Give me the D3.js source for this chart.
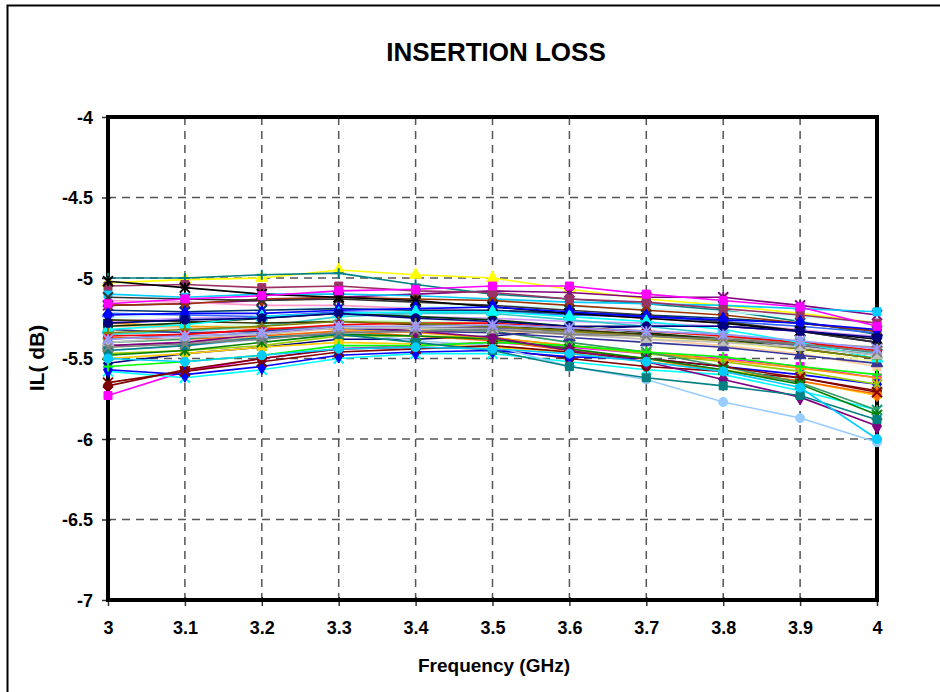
<!DOCTYPE html>
<html lang="en">
<head>
<meta charset="utf-8">
<title>Insertion loss</title>
<script src="https://cdn.jsdelivr.net/npm/d3@7"></script>
<style>
  body { margin: 0; background: #fff; }
  text { font-family: "Liberation Sans", Arial, sans-serif; font-weight: bold; fill: #000; }
</style>
</head>
<body>
<script>
// frequency points (GHz)
var freqs = [3.0, 3.1, 3.2, 3.3, 3.4, 3.5, 3.6, 3.7, 3.8, 3.9, 4.0];
var xTicks = [3, 3.1, 3.2, 3.3, 3.4, 3.5, 3.6, 3.7, 3.8, 3.9, 4];
var yTicks = [-4, -4.5, -5, -5.5, -6, -6.5, -7];

// one row per measured unit, IL in dB at each frequency
var ilCurves = [
  [-5.53,-5.47,-5.43,-5.38,-5.38,-5.36,-5.32,-5.30,-5.30,-5.33,-5.40],
  [-5.73,-5.58,-5.50,-5.44,-5.42,-5.40,-5.43,-5.47,-5.50,-5.55,-5.62],
  [-5.03,-5.01,-5.00,-4.95,-4.98,-5.00,-5.07,-5.13,-5.17,-5.22,-5.28],
  [-5.58,-5.62,-5.57,-5.50,-5.47,-5.47,-5.52,-5.57,-5.60,-5.70,-5.82],
  [-5.17,-5.16,-5.14,-5.12,-5.10,-5.08,-5.09,-5.12,-5.12,-5.17,-5.23],
  [-5.67,-5.57,-5.50,-5.44,-5.43,-5.44,-5.50,-5.55,-5.58,-5.62,-5.70],
  [-5.00,-5.00,-4.98,-4.97,-5.04,-5.10,-5.13,-5.16,-5.20,-5.27,-5.35],
  [-5.57,-5.60,-5.55,-5.48,-5.46,-5.45,-5.49,-5.50,-5.55,-5.60,-5.66],
  [-5.10,-5.12,-5.10,-5.10,-5.11,-5.13,-5.15,-5.16,-5.17,-5.19,-5.21],
  [-5.25,-5.22,-5.20,-5.18,-5.18,-5.17,-5.18,-5.19,-5.21,-5.24,-5.28],
  [-5.32,-5.30,-5.29,-5.26,-5.27,-5.27,-5.30,-5.33,-5.36,-5.40,-5.45],
  [-5.43,-5.40,-5.36,-5.30,-5.30,-5.29,-5.32,-5.37,-5.40,-5.45,-5.52],
  [-5.45,-5.42,-5.38,-5.33,-5.39,-5.42,-5.55,-5.63,-5.77,-5.87,-6.02],
  [-5.14,-5.15,-5.17,-5.17,-5.19,-5.20,-5.22,-5.25,-5.28,-5.32,-5.37],
  [-5.27,-5.25,-5.24,-5.22,-5.24,-5.25,-5.27,-5.28,-5.30,-5.33,-5.36],
  [-5.30,-5.31,-5.32,-5.30,-5.32,-5.33,-5.35,-5.38,-5.42,-5.47,-5.55],
  [-5.22,-5.23,-5.24,-5.21,-5.22,-5.21,-5.23,-5.24,-5.27,-5.30,-5.34],
  [-5.35,-5.33,-5.30,-5.24,-5.22,-5.22,-5.26,-5.30,-5.35,-5.40,-5.47],
  [-5.47,-5.45,-5.42,-5.36,-5.36,-5.37,-5.42,-5.47,-5.52,-5.58,-5.66],
  [-5.50,-5.47,-5.43,-5.40,-5.41,-5.43,-5.46,-5.52,-5.57,-5.64,-5.73],
  [-5.28,-5.30,-5.31,-5.32,-5.34,-5.37,-5.42,-5.46,-5.51,-5.56,-5.62],
  [-5.37,-5.38,-5.36,-5.33,-5.36,-5.39,-5.45,-5.50,-5.58,-5.64,-5.72],
  [-5.38,-5.35,-5.32,-5.30,-5.31,-5.31,-5.33,-5.35,-5.38,-5.42,-5.48],
  [-5.42,-5.40,-5.37,-5.34,-5.33,-5.32,-5.34,-5.35,-5.37,-5.40,-5.43],
  [-5.20,-5.21,-5.20,-5.19,-5.20,-5.20,-5.22,-5.23,-5.25,-5.28,-5.33],
  [-5.40,-5.38,-5.33,-5.30,-5.31,-5.33,-5.40,-5.46,-5.55,-5.65,-5.82],
  [-5.30,-5.28,-5.25,-5.22,-5.24,-5.26,-5.30,-5.34,-5.38,-5.44,-5.50],
  [-5.26,-5.27,-5.28,-5.27,-5.29,-5.30,-5.32,-5.35,-5.38,-5.41,-5.46],
  [-5.17,-5.16,-5.13,-5.12,-5.13,-5.14,-5.17,-5.20,-5.23,-5.28,-5.33],
  [-5.05,-5.04,-5.06,-5.05,-5.08,-5.09,-5.13,-5.15,-5.19,-5.23,-5.28],
  [-5.32,-5.34,-5.33,-5.31,-5.33,-5.34,-5.37,-5.40,-5.43,-5.48,-5.53],
  [-5.12,-5.13,-5.14,-5.13,-5.15,-5.17,-5.20,-5.23,-5.27,-5.33,-5.40],
  [-5.02,-5.06,-5.10,-5.12,-5.14,-5.18,-5.22,-5.25,-5.28,-5.33,-5.38],
  [-5.36,-5.35,-5.32,-5.29,-5.28,-5.28,-5.31,-5.33,-5.36,-5.40,-5.45],
  [-5.55,-5.52,-5.48,-5.42,-5.42,-5.40,-5.42,-5.46,-5.49,-5.55,-5.60],
  [-5.23,-5.22,-5.22,-5.20,-5.19,-5.18,-5.21,-5.24,-5.26,-5.28,-5.32],
  [-5.16,-5.13,-5.11,-5.08,-5.07,-5.05,-5.05,-5.10,-5.14,-5.18,-5.30],
  [-5.32,-5.29,-5.24,-5.22,-5.21,-5.21,-5.24,-5.27,-5.32,-5.40,-5.50],
  [-5.65,-5.58,-5.52,-5.46,-5.44,-5.42,-5.46,-5.50,-5.55,-5.62,-5.71],
  [-5.48,-5.45,-5.40,-5.35,-5.36,-5.38,-5.44,-5.50,-5.57,-5.66,-5.85],
  [-5.28,-5.26,-5.25,-5.22,-5.25,-5.27,-5.30,-5.30,-5.30,-5.33,-5.37],
  [-5.34,-5.32,-5.30,-5.27,-5.28,-5.30,-5.33,-5.36,-5.39,-5.44,-5.50],
  [-5.42,-5.40,-5.35,-5.30,-5.33,-5.37,-5.45,-5.52,-5.63,-5.74,-5.92],
  [-5.45,-5.42,-5.37,-5.35,-5.40,-5.45,-5.55,-5.62,-5.67,-5.73,-5.88],
  [-5.40,-5.37,-5.35,-5.31,-5.31,-5.32,-5.35,-5.38,-5.40,-5.43,-5.48],
  [-5.43,-5.41,-5.38,-5.34,-5.33,-5.32,-5.35,-5.36,-5.38,-5.41,-5.46],
  [-5.38,-5.36,-5.34,-5.30,-5.30,-5.29,-5.31,-5.33,-5.35,-5.39,-5.44],
  [-5.50,-5.52,-5.48,-5.44,-5.43,-5.44,-5.47,-5.52,-5.58,-5.68,-6.00]
];

// spreadsheet-style series colours, used in order
var seriesColors = [
  "#000080","#FF00FF","#FFFF00","#00FFFF","#800080","#800000","#008080","#0000FF",
  "#00CCFF","#CCFFFF","#CCFFCC","#FFFF99","#99CCFF","#FF99CC","#CC99FF","#FFCC99",
  "#3366FF","#33CCCC","#99CC00","#FFCC00","#FF9900","#FF6600","#666699","#969696",
  "#003366","#339966","#003300","#333300","#993300","#993366","#333399","#333333",
  "#000000","#FF0000","#00FF00","#0000FF","#FF00FF","#00FFFF","#800000","#008000",
  "#000080","#808000","#800080","#008080","#C0C0C0","#808080","#9999FF","#00CCFF"
];
var markerKinds = ["diamond","square","triangle","x","star","circle","plus"];

var W = 940, H = 692;
var plot = { left: 108, top: 117, right: 877, bottom: 600 };

var svg = d3.select("body").append("svg")
  .attr("width", W)
  .attr("height", H);

// chart frame (runs off the bottom/right edge like the original)
svg.append("rect")
  .attr("x", 7.5).attr("y", 5.5)
  .attr("width", W + 20).attr("height", H + 20)
  .attr("fill", "#fff")
  .attr("stroke", "#000")
  .attr("stroke-width", 2);

var x = d3.scaleLinear().domain([3, 4]).range([plot.left, plot.right]);
var y = d3.scaleLinear().domain([-7, -4]).range([plot.bottom, plot.top]);

// grid
svg.append("g").selectAll("line")
  .data(yTicks.slice(1, -1))
  .enter().append("line")
  .attr("x1", plot.left).attr("x2", plot.right)
  .attr("y1", function(d) { return y(d); })
  .attr("y2", function(d) { return y(d); })
  .attr("stroke", "#555")
  .attr("stroke-width", 1.5)
  .attr("stroke-dasharray", "8,6");

svg.append("g").selectAll("line")
  .data(xTicks.slice(1, -1))
  .enter().append("line")
  .attr("y1", plot.top).attr("y2", plot.bottom)
  .attr("x1", function(d) { return x(d); })
  .attr("x2", function(d) { return x(d); })
  .attr("stroke", "#555")
  .attr("stroke-width", 1.5)
  .attr("stroke-dasharray", "8,6");

// axes
var xAxis = d3.axisBottom(x).tickValues(xTicks).tickSize(6).tickPadding(15)
  .tickFormat(function(d) { return String(+d.toFixed(1)); });
var yAxis = d3.axisLeft(y).tickValues(yTicks).tickSize(6).tickPadding(9)
  .tickFormat(function(d) { return String(d); });

var gx = svg.append("g")
  .attr("transform", "translate(0," + plot.bottom + ")")
  .call(xAxis);
var gy = svg.append("g")
  .attr("transform", "translate(" + plot.left + ",0)")
  .call(yAxis);

[gx, gy].forEach(function(g) {
  g.select(".domain").remove();
  g.selectAll(".tick line").attr("stroke", "#333").attr("stroke-width", 1.5);
  g.selectAll(".tick text")
    .attr("font-family", "Liberation Sans, Arial, sans-serif")
    .attr("font-weight", "bold")
    .attr("font-size", "18px")
    .attr("fill", "#000");
});
gx.selectAll(".tick line").attr("y1", -3);
gy.selectAll(".tick line").attr("x1", 3);
gy.selectAll(".tick text").attr("dy", "0.35em");

// plot frame (markers at 3 and 4 GHz sit on top of it)
svg.append("rect")
  .attr("x", plot.left).attr("y", plot.top)
  .attr("width", plot.right - plot.left)
  .attr("height", plot.bottom - plot.top)
  .attr("fill", "none")
  .attr("stroke", "#000")
  .attr("stroke-width", 4);

// series
var line = d3.line()
  .x(function(d) { return x(d.f); })
  .y(function(d) { return y(d.v); });

var sym = {
  diamond: d3.symbol().type(d3.symbolDiamond).size(70),
  square: d3.symbol().type(d3.symbolSquare).size(64),
  triangle: d3.symbol().type(d3.symbolTriangle).size(60),
  circle: d3.symbol().type(d3.symbolCircle).size(64)
};

var seriesG = svg.append("g");
ilCurves.forEach(function(vals, i) {
  var color = seriesColors[i % seriesColors.length];
  var kind = markerKinds[i % markerKinds.length];
  var pts = vals.map(function(v, j) { return { f: freqs[j], v: v }; });
  var g = seriesG.append("g");

  g.append("path")
    .datum(pts)
    .attr("d", line)
    .attr("fill", "none")
    .attr("stroke", color)
    .attr("stroke-width", 1.6);

  var m = g.selectAll("g.m")
    .data(pts)
    .enter().append("g")
    .attr("transform", function(d) { return "translate(" + x(d.f) + "," + y(d.v) + ")"; });

  if (sym[kind]) {
    m.append("path").attr("d", sym[kind]()).attr("fill", color).attr("stroke", color);
  } else {
    var r = 5;
    var segs = [];
    if (kind === "x" || kind === "star") segs.push([-r, -r, r, r], [-r, r, r, -r]);
    if (kind === "star") segs.push([0, -r, 0, r]);
    if (kind === "plus") segs.push([-r, 0, r, 0], [0, -r, 0, r]);
    segs.forEach(function(s) {
      m.append("line")
        .attr("x1", s[0]).attr("y1", s[1]).attr("x2", s[2]).attr("y2", s[3])
        .attr("stroke", color).attr("stroke-width", 2);
    });
  }
});

// titles
svg.append("text")
  .attr("x", 496).attr("y", 61)
  .attr("text-anchor", "middle")
  .attr("font-size", "26px")
  .text("INSERTION LOSS");

svg.append("text")
  .attr("x", 494).attr("y", 672)
  .attr("text-anchor", "middle")
  .attr("font-size", "19px")
  .text("Frequency (GHz)");

svg.append("text")
  .attr("transform", "translate(44,358) rotate(-90)")
  .attr("text-anchor", "middle")
  .attr("font-size", "21px")
  .text("IL( dB)");
</script>
</body>
</html>
